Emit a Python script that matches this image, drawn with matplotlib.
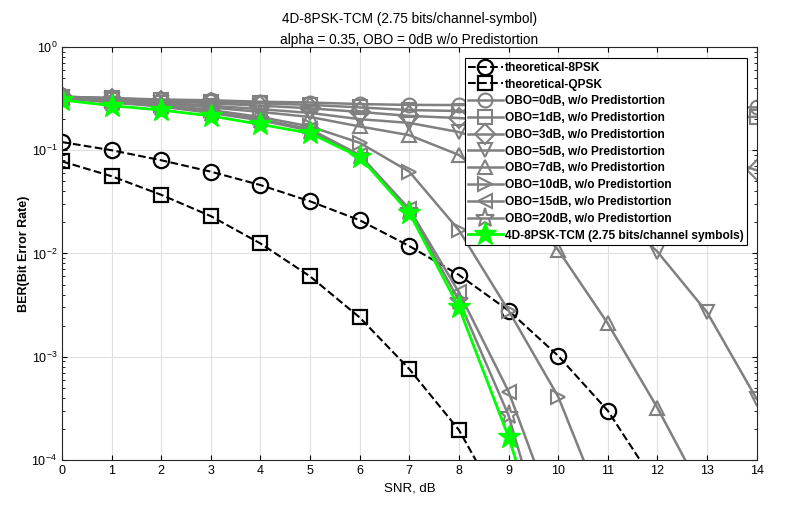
import numpy as np
import matplotlib
matplotlib.use("Agg")
import matplotlib.pyplot as plt
from matplotlib.ticker import LogLocator, NullFormatter

plt.rcParams["font.family"] = ["Liberation Sans", "DejaVu Sans"]

# SNR axis
snr = list(range(0, 15))

# theoretical curves
snr_8psk = list(range(0, 13))
ber_8psk = [0.12, 0.1, 0.08, 0.062, 0.046, 0.032, 0.021, 0.0118, 0.0062, 0.0028, 0.00102, 3.0e-4, 5.5e-5]
snr_qpsk = list(range(0, 10))
ber_qpsk = [0.078, 0.056, 0.037, 0.023, 0.0125, 0.006, 0.0024, 7.6e-4, 1.95e-4, 2.7e-5]

# OBO curves, w/o predistortion
obo_0 = [0.33, 0.32, 0.31, 0.305, 0.295, 0.29, 0.28, 0.275, 0.274, 0.272, 0.27, 0.268, 0.265, 0.262, 0.26]
obo_1 = [0.33, 0.32, 0.305, 0.295, 0.285, 0.275, 0.26, 0.245, 0.24, 0.235, 0.23, 0.225, 0.22, 0.215, 0.21]
obo_3 = [0.33, 0.315, 0.30, 0.285, 0.27, 0.255, 0.235, 0.215, 0.205, 0.19, 0.17, 0.15, 0.12, 0.092, 0.064]
obo_5 = [0.33, 0.31, 0.29, 0.27, 0.25, 0.23, 0.20, 0.184, 0.150, 0.105, 0.06, 0.029, 0.0104, 0.0027, 3.9e-4]
obo_7 = [0.33, 0.31, 0.285, 0.26, 0.235, 0.21, 0.17, 0.14, 0.09, 0.038, 0.0108, 0.0021, 3.2e-4, 4e-5]
obo_10 = [0.33, 0.30, 0.275, 0.245, 0.21, 0.17, 0.118, 0.062, 0.0168, 0.0028, 4.1e-4, 2.6e-5]
obo_15 = [0.32, 0.295, 0.268, 0.235, 0.20, 0.16, 0.09, 0.027, 0.0042, 4.6e-4, 2.3e-5]
obo_20 = [0.32, 0.29, 0.265, 0.23, 0.195, 0.155, 0.088, 0.026, 0.0035, 2.7e-4, 6e-6]
tcm = [0.307, 0.27, 0.245, 0.215, 0.178, 0.146, 0.086, 0.0247, 0.0030, 1.67e-4, 5e-6]

obo_curves = [obo_0, obo_1, obo_3, obo_5, obo_7, obo_10, obo_15, obo_20]
obo_labels = ["OBO=0dB, w/o Predistortion", "OBO=1dB, w/o Predistortion",
              "OBO=3dB, w/o Predistortion", "OBO=5dB, w/o Predistortion",
              "OBO=7dB, w/o Predistortion", "OBO=10dB, w/o Predistortion",
              "OBO=15dB, w/o Predistortion", "OBO=20dB, w/o Predistortion"]
obo_markers = ["o", "s", "D", "v", "^", ">", "<", "*"]

fig = plt.figure(figsize=(7.89, 5.12), dpi=100)
ax = fig.add_axes([0.0786, 0.1016, 0.8804, 0.8066])

gray = (0.5, 0.5, 0.5)
ax.plot(snr_8psk, ber_8psk, "k--o", lw=1.5, ms=11, mfc="none", mew=1.6,
        label="theoretical-8PSK")
ax.plot(snr_qpsk, ber_qpsk, "k--s", lw=1.5, ms=10, mfc="none", mew=1.6,
        label="theoretical-QPSK")
for vals, lab, mk in zip(obo_curves, obo_labels, obo_markers):
    ax.plot(snr[:len(vals)], vals, color=gray, marker=mk, lw=1.8,
            ms=14 if mk == "*" else 10, mfc="none", mew=1.5, label=lab)
ax.plot(snr[:len(tcm)], tcm, color=(0, 1, 0), marker="*", lw=2, ms=17,
        mfc=(0, 1, 0), mec=(0, 1, 0), label="4D-8PSK-TCM (2.75 bits/channel symbols)")

ax.set_yscale("log")
ax.set_xlim(0, 14)
ax.set_ylim(1e-4, 1)
ax.set_xticks(range(0, 15))
ax.yaxis.set_minor_locator(LogLocator(base=10, subs=np.arange(2, 10)))
ax.yaxis.set_minor_formatter(NullFormatter())
ax.tick_params(which="both", direction="in", top=True, right=True, labelsize=9)
ax.grid(True, which="major", color=(0.88, 0.88, 0.88), lw=0.8)
ax.set_axisbelow(True)
for s in ax.spines.values():
    s.set_color((0.15, 0.15, 0.15))

ax.set_xlabel("SNR, dB", fontsize=9.5)
ax.set_ylabel("BER(Bit Error Rate)", fontsize=9, fontweight="bold", labelpad=1)
ax.set_title("4D-8PSK-TCM (2.75 bits/channel-symbol)\nalpha = 0.35, OBO = 0dB w/o Predistortion",
             fontsize=9.8, linespacing=1.65, pad=-2)

leg = ax.legend(loc="upper right", bbox_to_anchor=(0.986, 0.973),
                prop={"weight": "bold", "size": 8.6}, frameon=True, fancybox=False,
                edgecolor="black", framealpha=1, handlelength=2.9, handletextpad=0.15,
                labelspacing=0.4, borderpad=0.3, borderaxespad=0)
leg.get_frame().set_linewidth(0.8)

fig.savefig("out.png", dpi=100)
